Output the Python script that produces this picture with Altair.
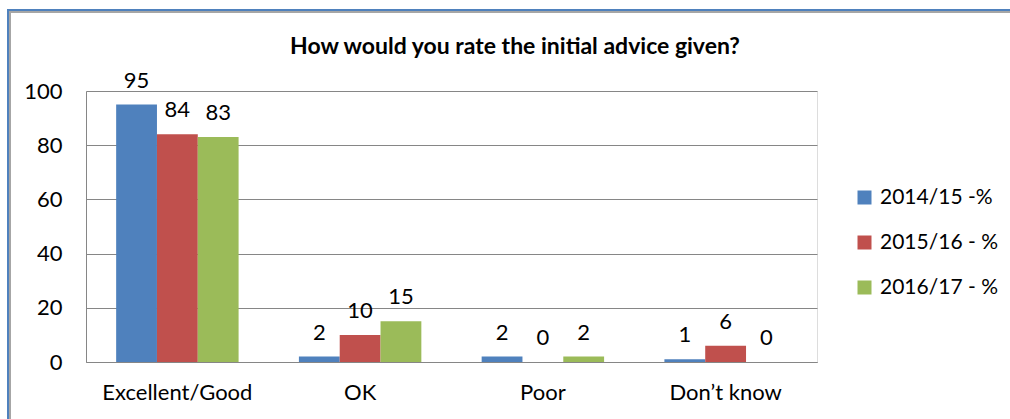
import altair as alt
import pandas as pd

categories = ["Excellent/Good", "OK", "Poor", "Don\u2019t know"]
series = ["2014/15 -%", "2015/16 - %", "2016/17 - %"]
v2014 = [95, 2, 2, 1]
v2015 = [84, 10, 0, 6]
v2016 = [83, 15, 2, 0]
colors = ["#4F81BD", "#C0504D", "#9BBB59"]
title_text = "How would you rate the initial advice given?"

rows = []
for s, vals in zip(series, [v2014, v2015, v2016]):
    for c, v in zip(categories, vals):
        rows.append({"category": c, "series": s, "value": v})
df = pd.DataFrame(rows)

FONT = "Lato"

x = alt.X("category:N", sort=categories, title=None,
          scale=alt.Scale(paddingInner=0.33, paddingOuter=0.165),
          axis=alt.Axis(labelAngle=0, labelFontSize=22, labelFont=FONT, labelColor="#000000",
                        labelPadding=20, ticks=False, domainColor="#868686", domainWidth=1))
xo = alt.XOffset("series:N", sort=series, scale=alt.Scale(paddingInner=0, paddingOuter=0))
y = alt.Y("value:Q", title=None,
          scale=alt.Scale(domain=[0, 100], nice=False),
          axis=alt.Axis(values=[0, 20, 40, 60, 80, 100], labelFontSize=22, labelFont=FONT,
                        labelColor="#000000", labelPadding=24, ticks=False,
                        domainColor="#868686", gridColor="#868686", gridWidth=1))

bars = alt.Chart(df).mark_bar().encode(
    x=x, xOffset=xo, y=y,
    color=alt.Color("series:N", sort=series,
                    scale=alt.Scale(domain=series, range=colors),
                    legend=alt.Legend(title=None, orient="none", legendX=768, legendY=96,
                                      symbolType="square", symbolSize=196, symbolStrokeWidth=0,
                                      labelFont=FONT, labelFontSize=21, labelColor="#000000",
                                      rowPadding=23, labelOffset=5)),
)

labels = alt.Chart(df).mark_text(fontSize=22, font=FONT, color="#000000",
                                 baseline="alphabetic", dy=-17).encode(
    x=alt.X("category:N", sort=categories), xOffset=alt.XOffset("series:N", sort=series),
    y="value:Q", text="value:Q")

shadow = alt.Chart(alt.Data(values=[{}])).mark_rect(
    fill=None, stroke="#A6A6A6", strokeWidth=2).encode(
    x=alt.value(-76), x2=alt.value(1100), y=alt.value(-79), y2=alt.value(500))

border = alt.Chart(alt.Data(values=[{}])).mark_rect(
    fill=None, stroke="#4F81BD", strokeWidth=2).encode(
    x=alt.value(-78), x2=alt.value(1100), y=alt.value(-81), y2=alt.value(500))

title = alt.Chart(alt.Data(values=[{"t": title_text}])).mark_text(
    font=FONT, fontSize=23, fontWeight="bold", color="#000000", baseline="middle", align="center"
).encode(x=alt.value(429), y=alt.value(-44), text="t:N")

chart = alt.layer(shadow, border, bars, labels, title).properties(
    width=731, height=271,
    autosize=alt.AutoSizeParams(type="none"),
    padding={"left": 86, "top": 91, "right": 193, "bottom": 57},
).configure_view(stroke=None).configure(background="white")

chart.save("out.html", embed_options={"renderer": "svg", "actions": False})
